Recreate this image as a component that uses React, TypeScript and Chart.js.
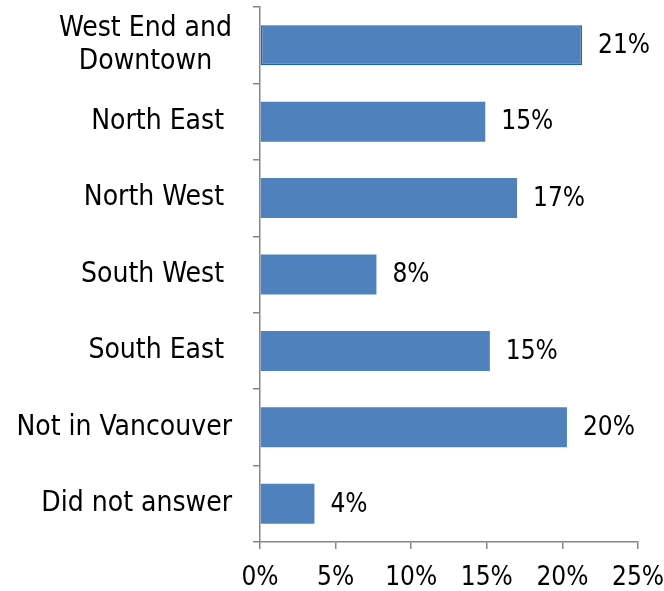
import React, { useEffect, useRef } from 'react';
import { Chart, registerables } from 'chart.js';

Chart.register(...registerables);

const categories: (string | string[])[] = [
  ['West End and', 'Downtown'],
  'North East ',
  'North West ',
  'South West ',
  'South East ',
  'Not in Vancouver',
  'Did not answer',
];
const values = [21.3, 14.9, 17.0, 7.7, 15.2, 20.3, 3.6];
const valueLabels = ['21%', '15%', '17%', '8%', '15%', '20%', '4%'];
const xMin = 0;
const xMax = 25;
const xStep = 5;

const LABEL_FONT = '"DejaVu Sans Condensed", "DejaVu Sans", sans-serif';
const NUM_FONT = '"DejaVu Sans Condensed", "DejaVu Sans", sans-serif';
const NUM_SIZE = 26;
const AXIS_COLOR = '#868686';

const yLabelPlugin = {
  id: 'yLabels',
  afterDraw(chart: any) {
    const { ctx } = chart;
    const y = chart.scales.y;
    ctx.save();
    ctx.font = '28px ' + LABEL_FONT;
    ctx.fillStyle = '#000';
    ctx.textBaseline = 'middle';
    ctx.textAlign = 'center';
    const right = y.right - 28;
    categories.forEach((lab, i) => {
      const lines = Array.isArray(lab) ? lab : [lab];
      const maxW = Math.max(...lines.map((l) => ctx.measureText(l).width));
      const cx = right - maxW / 2;
      const cy = y.getPixelForValue(i);
      lines.forEach((l, j) => {
        ctx.fillText(l, cx, cy + (j - (lines.length - 1) / 2) * 33);
      });
    });
    ctx.restore();
  },
};

const valueLabelPlugin = {
  id: 'valueLabels',
  afterDatasetsDraw(chart: any) {
    const { ctx } = chart;
    const meta = chart.getDatasetMeta(0);
    ctx.save();
    ctx.font = NUM_SIZE + 'px ' + NUM_FONT;
    ctx.fillStyle = '#000';
    ctx.textBaseline = 'middle';
    ctx.textAlign = 'left';
    meta.data.forEach((bar: any, i: number) => {
      ctx.fillText(valueLabels[i], bar.x + 16, bar.y + 1);
    });
    ctx.restore();
  },
};

export default function App() {
  const ref = useRef<HTMLCanvasElement>(null);
  useEffect(() => {
    if (!ref.current) return;
    const chart = new Chart(ref.current, {
      type: 'bar',
      data: {
        labels: categories.map((c) => (Array.isArray(c) ? c.join(' ') : c)),
        datasets: [
          {
            data: values,
            backgroundColor: '#4F81BD',
            borderColor: values.map((_, i) => (i === 0 ? '#1F64AE' : '#4F81BD')),
            borderWidth: values.map((_, i) => (i === 0 ? 1.5 : 0)),
            borderSkipped: false,
            categoryPercentage: 1,
            barPercentage: 0.523,
          },
        ],
      },
      options: {
        indexAxis: 'y',
        responsive: false,
        animation: false,
        devicePixelRatio: 1,
        layout: { padding: { left: 0, top: 7, right: 26, bottom: 0 } },
        plugins: {
          legend: { display: false },
          tooltip: { enabled: false },
          title: { display: false },
        },
        scales: {
          x: {
            type: 'linear',
            min: xMin,
            max: xMax,
            ticks: {
              stepSize: xStep,
              callback: (v: any) => v + '%',
              color: '#000',
              font: { family: NUM_FONT, size: NUM_SIZE },
              padding: 14,
              maxRotation: 0,
            },
            grid: {
              drawOnChartArea: false,
              drawTicks: true,
              tickLength: 7,
              color: AXIS_COLOR,
              lineWidth: 1.5,
            },
            border: { display: true, color: AXIS_COLOR, width: 1.5 },
            afterFit: (scale: any) => {
              scale.height = 49;
              scale.paddingLeft = 0;
              scale.paddingRight = 0;
            },
          },
          y: {
            type: 'category',
            offset: true,
            ticks: { display: false },
            grid: {
              offset: true,
              drawOnChartArea: false,
              drawTicks: true,
              tickLength: 7,
              color: AXIS_COLOR,
              lineWidth: 1.5,
            },
            border: { display: true, color: AXIS_COLOR, width: 1.5 },
            afterFit: (scale: any) => {
              scale.width = 260;
              scale.paddingTop = 0;
              scale.paddingBottom = 0;
            },
          },
        },
      },
      plugins: [yLabelPlugin, valueLabelPlugin],
    } as any);
    return () => chart.destroy();
  }, []);
  return (
    <div style={{ position: 'fixed', left: 0, top: 0, width: 664, height: 591, background: '#fff' }}>
      <canvas ref={ref} width={664} height={591} style={{ width: 664, height: 591 }} />
    </div>
  );
}
